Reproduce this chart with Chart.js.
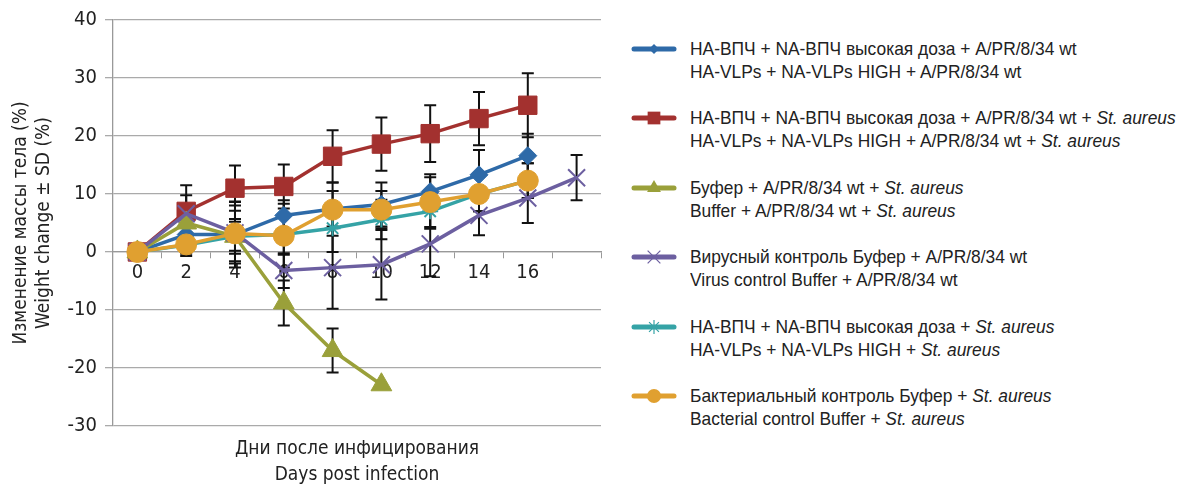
<!DOCTYPE html>
<html>
<head>
<meta charset="utf-8">
<script src="https://cdn.jsdelivr.net/npm/chart.js@4.4.1/dist/chart.umd.min.js"></script>
<style>
  html, body { margin: 0; padding: 0; background: #fff; }
  body { width: 1179px; height: 485px; position: relative; overflow: hidden;
         font-family: 'Liberation Sans', Arial, sans-serif; color: #222; }
  #wrap { position: absolute; left: 0; top: 0; width: 615px; height: 485px; }
  #legend { position: absolute; left: 630px; top: 37px; }
  .item { display: flex; align-items: flex-start; height: 69.4px; }
  .item canvas { margin-top: 1px; margin-right: 12px; }
  .item .txt { font-size: 19px; line-height: 23px; white-space: nowrap;
               transform: scaleX(0.915); transform-origin: 0 0; }
  .item i { font-style: italic; }
</style>
</head>
<body>
<div id="wrap"><canvas id="weightChart"></canvas></div>
<div id="legend"></div>
<script>
// Дни после инфицирования (последняя категория без подписи)
const days = ['0', '2', '4', '6', '8', '10', '12', '14', '16', ''];
const yTicks = [-30, -20, -10, 0, 10, 20, 30, 40];

// средние значения, %
const vlpWt = [0, 3.0, 3.0, 6.3, 7.4, 8.2, 10.4, 13.3, 16.6, null];
const vlpWtSa = [0, 7.0, 11.0, 11.3, 16.5, 18.6, 20.4, 23.0, 25.3, null];
const bufWtSa = [0, 5.0, 2.7, -8.8, -17.0, -22.9, null, null, null, null];
const virusCtrl = [0, 6.6, 3.3, -3.2, -2.7, -2.2, 1.4, 6.3, 9.3, 12.8];
const vlpSa = [0, 1.2, 2.7, 3.0, 4.1, 5.6, 7.0, 10.0, 12.3, null];
const bactCtrl = [0, 1.3, 3.2, 2.8, 7.3, 7.3, 8.6, 10.0, 12.3, null];

// SD
const vlpWtSd = [0, 2.0, 5.7, 2.6, 4.6, 3.8, 3.0, 4.3, 3.8, null];
const vlpWtSaSd = [0, 4.5, 3.9, 3.8, 4.5, 4.6, 4.9, 4.6, 5.5, null];
const bufWtSaSd = [0, 2.5, 3.0, 3.9, 3.8, 0, null, null, null, null];
const virusCtrlSd = [0, 3.2, 5.3, 3.0, 7.1, 6.0, 5.6, 3.4, 4.3, 3.9];
const vlpSaSd = [0, 1.5, 2.5, 3.5, 4.1, 3.4, 3.0, 3.0, 3.0, null];
const bactCtrlSd = [0, 2.0, 4.8, 5.5, 3.2, 3.2, 4.3, 3.0, 3.0, null];

const FONT = "'DejaVu Sans Condensed', 'Liberation Sans', sans-serif";

const series = [
    { data: vlpWt, sd: vlpWtSd, color: '#2E6AA8', style: 'rectRot', r: 9, lr: 5,
      label: ['HA-ВПЧ + NA-ВПЧ высокая доза + A/PR/8/34 wt', 'HA-VLPs + NA-VLPs HIGH + A/PR/8/34 wt'] },
    { data: vlpWtSa, sd: vlpWtSaSd, color: '#A3312F', style: 'rect', r: 13, lr: 9,
      label: ['HA-ВПЧ + NA-ВПЧ высокая доза + A/PR/8/34 wt + <i>St. aureus</i>', 'HA-VLPs + NA-VLPs HIGH + A/PR/8/34 wt + <i>St. aureus</i>'] },
    { data: bufWtSa, sd: bufWtSaSd, color: '#9AA03A', style: 'triangle', r: 12, lr: 8,
      label: ['Буфер + A/PR/8/34 wt + <i>St. aureus</i>', 'Buffer + A/PR/8/34 wt + <i>St. aureus</i>'] },
    { data: virusCtrl, sd: virusCtrlSd, color: '#6C5FA0', style: 'crossRot', r: 12, lr: 9,
      label: ['Вирусный контроль Буфер + A/PR/8/34 wt', 'Virus control Buffer + A/PR/8/34 wt'] },
    { data: vlpSa, sd: vlpSaSd, color: '#35A3A6', style: 'star', r: 8, lr: 7,
      label: ['HA-ВПЧ + NA-ВПЧ высокая доза + <i>St. aureus</i>', 'HA-VLPs + NA-VLPs HIGH + <i>St. aureus</i>'] },
    { data: bactCtrl, sd: bactCtrlSd, color: '#E0A030', style: 'circle', r: 10.5, lr: 7,
      label: ['Бактериальный контроль Буфер + <i>St. aureus</i>', 'Bacterial control Buffer + <i>St. aureus</i>'] }
];

const errorBars = {
    id: 'errorBars',
    beforeDatasetsDraw(chart) {
        const ctx = chart.ctx;
        const yScale = chart.scales.y;
        ctx.save();
        ctx.strokeStyle = '#111';
        ctx.lineWidth = 2;
        chart.data.datasets.forEach((ds, i) => {
            const meta = chart.getDatasetMeta(i);
            ds.data.forEach((v, j) => {
                const sd = ds.sd[j];
                if (v === null || !sd) return;
                const x = meta.data[j].x;
                const t = yScale.getPixelForValue(v + sd);
                const b = yScale.getPixelForValue(v - sd);
                ctx.beginPath();
                ctx.moveTo(x, t); ctx.lineTo(x, b);
                ctx.moveTo(x - 6, t); ctx.lineTo(x + 6, t);
                ctx.moveTo(x - 6, b); ctx.lineTo(x + 6, b);
                ctx.stroke();
            });
        });
        ctx.restore();
    }
};

function initializeChart() {
    const ctx = document.getElementById('weightChart');
    new Chart(ctx, {
        type: 'line',
        data: {
            labels: days,
            datasets: series.map((s, i) => ({
                data: s.data,
                sd: s.sd,
                order: series.length - i,
                borderColor: s.color,
                backgroundColor: s.color,
                borderWidth: 3.5,
                pointStyle: s.style,
                pointRadius: s.r,
                pointBorderWidth: (s.style === 'crossRot' || s.style === 'star') ? 2 : 1,
                pointBorderColor: s.color,
                pointBackgroundColor: s.color,
                tension: 0,
                spanGaps: false
            }))
        },
        options: {
            responsive: true,
            maintainAspectRatio: false,
            animation: false,
            layout: { padding: { top: 9, right: 13, left: 10, bottom: 0 } },
            plugins: {
                legend: { display: false },
                tooltip: { enabled: false },
                title: {
                    display: true,
                    position: 'bottom',
                    fullSize: false,
                    text: ['Дни после инфицирования', 'Days post infection'],
                    color: '#222',
                    font: { family: FONT, size: 19, weight: 'normal', lineHeight: 1.37 },
                    padding: { top: 10, bottom: -3 }
                }
            },
            scales: {
                x: {
                    type: 'category',
                    position: { y: 0 },
                    offset: true,
                    grid: { display: true, drawOnChartArea: false, offset: true, tickLength: 6, color: '#999' },
                    border: { display: true, color: '#999', width: 1.3 },
                    ticks: { color: '#222', font: { family: FONT, size: 20 }, padding: 3, autoSkip: false, maxRotation: 0 }
                },
                y: {
                    min: -30,
                    max: 40,
                    afterBuildTicks: (scale) => { scale.ticks = yTicks.map(v => ({ value: v })); },
                    grid: { color: '#aaa', lineWidth: 1.3, tickLength: 8 },
                    border: { color: '#999', width: 1.3 },
                    ticks: { color: '#222', font: { family: FONT, size: 20 }, padding: 8 },
                    title: {
                        display: true,
                        text: ['Изменение массы тела (%)', 'Weight change ± SD (%)'],
                        color: '#222',
                        font: { family: FONT, size: 19, lineHeight: 1.2 },
                        padding: { top: 0, bottom: 4 }
                    }
                }
            }
        },
        plugins: [errorBars]
    });

    // легенда
    const legend = document.getElementById('legend');
    series.forEach(s => {
        const item = document.createElement('div');
        item.className = 'item';
        const c = document.createElement('canvas');
        c.width = 48; c.height = 22;
        const g = c.getContext('2d');
        g.strokeStyle = s.color;
        g.lineWidth = 5;
        g.lineCap = 'round';
        g.beginPath(); g.moveTo(4, 11); g.lineTo(44, 11); g.stroke();
        g.fillStyle = s.color;
        g.lineWidth = 1.2;
        g.lineCap = 'butt';
        const thin = (s.style === 'crossRot' || s.style === 'star');
        Chart.helpers.drawPoint(g, { pointStyle: s.style, radius: s.lr, rotation: 0, borderWidth: thin ? 1.2 : 0 }, 24, 11);
        item.appendChild(c);
        const t = document.createElement('div');
        t.className = 'txt';
        t.innerHTML = s.label[0] + '<br>' + s.label[1];
        item.appendChild(t);
        legend.appendChild(item);
    });
}

if (document.readyState === 'loading') {
    document.addEventListener('DOMContentLoaded', initializeChart);
} else {
    initializeChart();
}
</script>
</body>
</html>
